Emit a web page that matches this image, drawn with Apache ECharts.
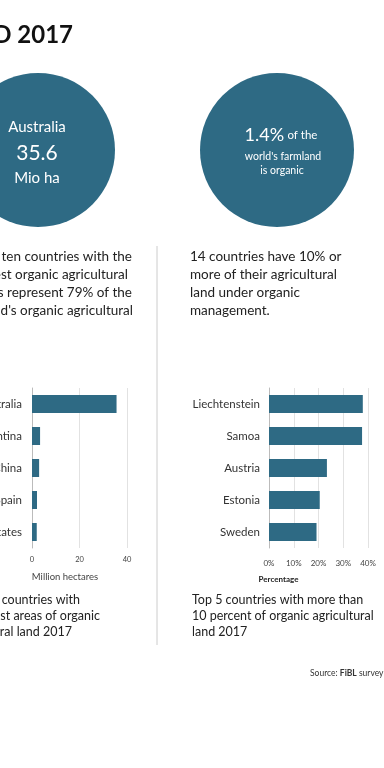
<!DOCTYPE html>
<html><head><meta charset="utf-8">
<script src="https://cdn.jsdelivr.net/npm/echarts@6/dist/echarts.min.js"></script>
<style>html,body{margin:0;padding:0;background:#fff}#c{width:384px;height:768px}</style>
</head><body><div id="c"></div>
<script>
const areaCountries = ['Australia', 'Argentina', 'China', 'Spain', 'United States'];
const areaValues = [35.6, 3.4, 3.0, 2.1, 2.0];
const areaTicks = [0, 20, 40];
const shareCountries = ['Liechtenstein', 'Samoa', 'Austria', 'Estonia', 'Sweden'];
const shareValues = [37.9, 37.6, 23.4, 20.5, 19.2];
const shareTicks = ['0%', '10%', '20%', '30%', '40%'];

const BLUE = '#2e6a84';
const FONT = 'Lato, "Open Sans", sans-serif';
const chart = echarts.init(document.getElementById('c'), null, {renderer: 'canvas'});

function stxt(x, y, s, size, opt) {
  return {type: 'text', x: x, y: y, style: Object.assign({
    text: s, fontFamily: FONT, fontSize: size, fill: '#222', textAlign: 'left', textVerticalAlign: 'middle'
  }, opt || {})};
}

const graphics = [
  stxt(73, 35, 'WORLD 2017', 24, {fontWeight: 'bold', textAlign: 'right', fill: '#111'}),
  {type: 'circle', shape: {cx: 38, cy: 150, r: 77}, style: {fill: BLUE}},
  {type: 'circle', shape: {cx: 277, cy: 150, r: 77}, style: {fill: BLUE}},
  stxt(37, 127, 'Australia', 15, {fill: '#fff', textAlign: 'center'}),
  stxt(37, 153, '35.6', 21, {fill: '#fff', textAlign: 'center'}),
  stxt(37, 178, 'Mio ha', 15, {fill: '#fff', textAlign: 'center'}),
  {type: 'text', x: 281, y: 135, style: {text: '{a|1.4%} {b|of the}', textAlign: 'center', textVerticalAlign: 'middle',
    rich: {a: {fontSize: 18, fill: '#fff', fontFamily: FONT}, b: {fontSize: 11.5, fill: '#fff', fontFamily: FONT}}}},
  stxt(283, 157, "world's farmland", 10.5, {fill: '#fff', textAlign: 'center'}),
  stxt(282, 171, 'is organic', 10.5, {fill: '#fff', textAlign: 'center'}),
  stxt(132, 257, 'The ten countries with the', 13.5, {textAlign: 'right'}),
  stxt(128, 275, 'largest organic agricultural', 13.5, {textAlign: 'right'}),
  stxt(132, 293, 'areas represent 79% of the', 13.5, {textAlign: 'right'}),
  stxt(133, 311, "world's organic agricultural", 13.5, {textAlign: 'right'}),
  stxt(190, 257, '14 countries have 10% or', 13.5),
  stxt(190, 275, 'more of their agricultural', 13.5),
  stxt(190, 293, 'land under organic', 13.5),
  stxt(190, 311, 'management.', 13.5),
  {type: 'line', shape: {x1: 157, y1: 246, x2: 157, y2: 645}, style: {stroke: '#ccc', lineWidth: 1}},
  stxt(80, 600, 'Top 5 countries with', 12.5, {textAlign: 'right'}),
  stxt(100, 616, 'the largest areas of organic', 12.5, {textAlign: 'right'}),
  stxt(72, 632, 'agricultural land 2017', 12.5, {textAlign: 'right'}),
  stxt(192, 600, 'Top 5 countries with more than', 12.5),
  stxt(192, 616, '10 percent of organic agricultural', 12.5),
  stxt(192, 632, 'land 2017', 12.5),
  {type: 'text', x: 310, y: 673, style: {text: 'Source: {b|FiBL} survey 2019', fontFamily: FONT, fontSize: 8.5, fill: '#333', textVerticalAlign: 'middle',
    rich: {b: {fontWeight: 'bold', fontSize: 8.5, fontFamily: FONT, fill: '#333'}}}}
];

chart.setOption({
  animation: false,
  textStyle: {fontFamily: FONT},
  grid: [
    {left: 32, top: 388, width: 95, height: 160, containLabel: false, outerBoundsMode: 'none'},
    {left: 269, top: 388, width: 99, height: 160, containLabel: false, outerBoundsMode: 'none'}
  ],
  xAxis: [
    {gridIndex: 0, type: 'value', min: areaTicks[0], max: areaTicks[areaTicks.length - 1], interval: 20,
      axisLine: {show: false}, axisTick: {show: false},
      splitLine: {lineStyle: {color: '#e2e2e2'}},
      axisLabel: {fontSize: 7.5, color: '#444', margin: 8, fontFamily: FONT},
      name: 'Million hectares', nameLocation: 'middle', nameGap: 24,
      nameTextStyle: {fontSize: 9.5, color: '#444', fontFamily: FONT, padding: [0, 29, 0, 0]}},
    {gridIndex: 1, type: 'value', min: 0, max: 40, interval: 10,
      axisLine: {show: false}, axisTick: {show: false},
      splitLine: {lineStyle: {color: '#e2e2e2'}},
      axisLabel: {fontSize: 8, color: '#444', margin: 11, fontFamily: FONT,
        formatter: function (v) { return shareTicks[v / 10]; }},
      name: 'Percentage', nameLocation: 'middle', nameGap: 27,
      nameTextStyle: {fontSize: 8, color: '#222', fontWeight: 'bold', fontFamily: FONT, padding: [0, 80, 0, 0]}}
  ],
  yAxis: [
    {gridIndex: 0, type: 'category', data: areaCountries, inverse: true,
      axisLine: {lineStyle: {color: '#bbb'}}, axisTick: {show: false},
      axisLabel: {fontSize: 11.5, color: '#333', margin: 10, fontFamily: FONT}},
    {gridIndex: 1, type: 'category', data: shareCountries, inverse: true,
      axisLine: {lineStyle: {color: '#bbb'}}, axisTick: {show: false},
      axisLabel: {fontSize: 11.5, color: '#333', margin: 9, fontFamily: FONT}}
  ],
  series: [
    {type: 'bar', xAxisIndex: 0, yAxisIndex: 0, data: areaValues, barWidth: 18, itemStyle: {color: BLUE}},
    {type: 'bar', xAxisIndex: 1, yAxisIndex: 1, data: shareValues, barWidth: 18, itemStyle: {color: BLUE}}
  ],
  graphic: graphics
});
</script></body></html>
